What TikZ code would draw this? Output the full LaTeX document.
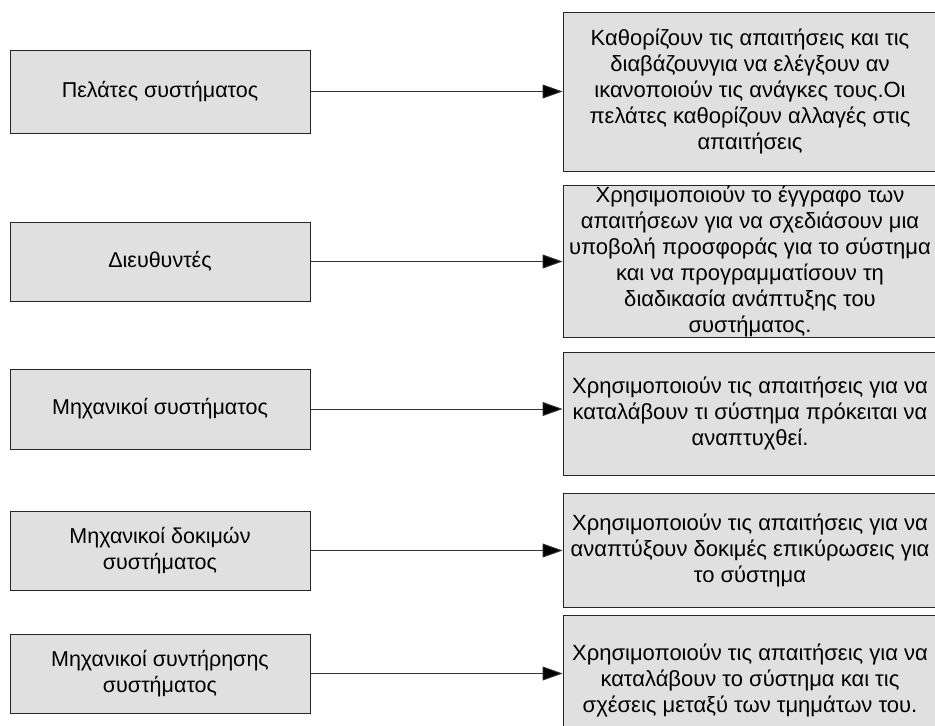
\documentclass[tikz,border=0pt]{standalone}
\usepackage{fontspec}
\setmainfont{Liberation Sans}
\usetikzlibrary{arrows.meta}

\tikzset{
  role/.style={draw=black!85, fill=black!12, line width=0.9pt, inner sep=0pt,
    minimum width=300pt, align=center,
    font=\fontsize{21.5}{25.5}\selectfont},
  duty/.style={draw=black!85, fill=black!12, line width=0.9pt, inner sep=0pt,
    minimum width=374pt, align=center,
    font=\fontsize{22}{26}\selectfont},
  link/.style={draw=black!80, line width=0.9pt,
    -{Triangle[length=20pt,width=14pt,fill=black]}}
}

\begin{document}
\begin{tikzpicture}[x=1pt,y=-1pt]
  \useasboundingbox (0,0) rectangle (935,726);
  \clip (0,0) rectangle (935,726);
  \fill[white] (0,0) rectangle (935,726);

  % stakeholders
  \node[role, minimum height=83pt] (l1) at (160,91.5) {Πελάτες συστήματος};
  \node[role, minimum height=79pt] (l2) at (160,261.5) {Διευθυντές};
  \node[role, minimum height=80pt] (l3) at (160,409) {Μηχανικοί συστήματος};
  \node[role, minimum height=79pt] (l4) at (160,550.5) {Μηχανικοί δοκιμών\\συστήματος};
  \node[role, minimum height=79pt] (l5) at (160,673.5) {Μηχανικοί συντήρησης\\συστήματος};

  % how each one uses the requirements
  \node[duty, minimum height=159pt] (r1) at (750,91.5)
    {Καθορίζουν τις απαιτήσεις και τις\\διαβάζουνγια να ελέγξουν αν\\ικανοποιούν τις ανάγκες τους.Οι\\πελάτες καθορίζουν αλλαγές στις\\απαιτήσεις};
  \node[duty, minimum height=152pt] (r2) at (750,261)
    {Χρησιμοποιούν το έγγραφο των\\απαιτήσεων για να σχεδιάσουν μια\\υποβολή προσφοράς για το σύστημα\\και να προγραμματίσουν τη\\διαδικασία ανάπτυξης του\\συστήματος.};
  \node[duty, minimum height=123pt] (r3) at (750,413.5)
    {Χρησιμοποιούν τις απαιτήσεις για να\\καταλάβουν τι σύστημα πρόκειται να\\αναπτυχθεί.};
  \node[duty, minimum height=114pt] (r4) at (750,550)
    {Χρησιμοποιούν τις απαιτήσεις για να\\αναπτύξουν δοκιμές επικύρωσεις για\\το σύστημα};
  \node[duty, minimum height=130pt] (r5) at (750,680)
    {Χρησιμοποιούν τις απαιτήσεις για να\\καταλάβουν το σύστημα και τις\\σχέσεις μεταξύ των τμημάτων του.};

  % connectors
  \foreach \i in {1,...,5}
    \draw[link] (l\i.east) -- (l\i.east -| r\i.west);
\end{tikzpicture}
\end{document}
